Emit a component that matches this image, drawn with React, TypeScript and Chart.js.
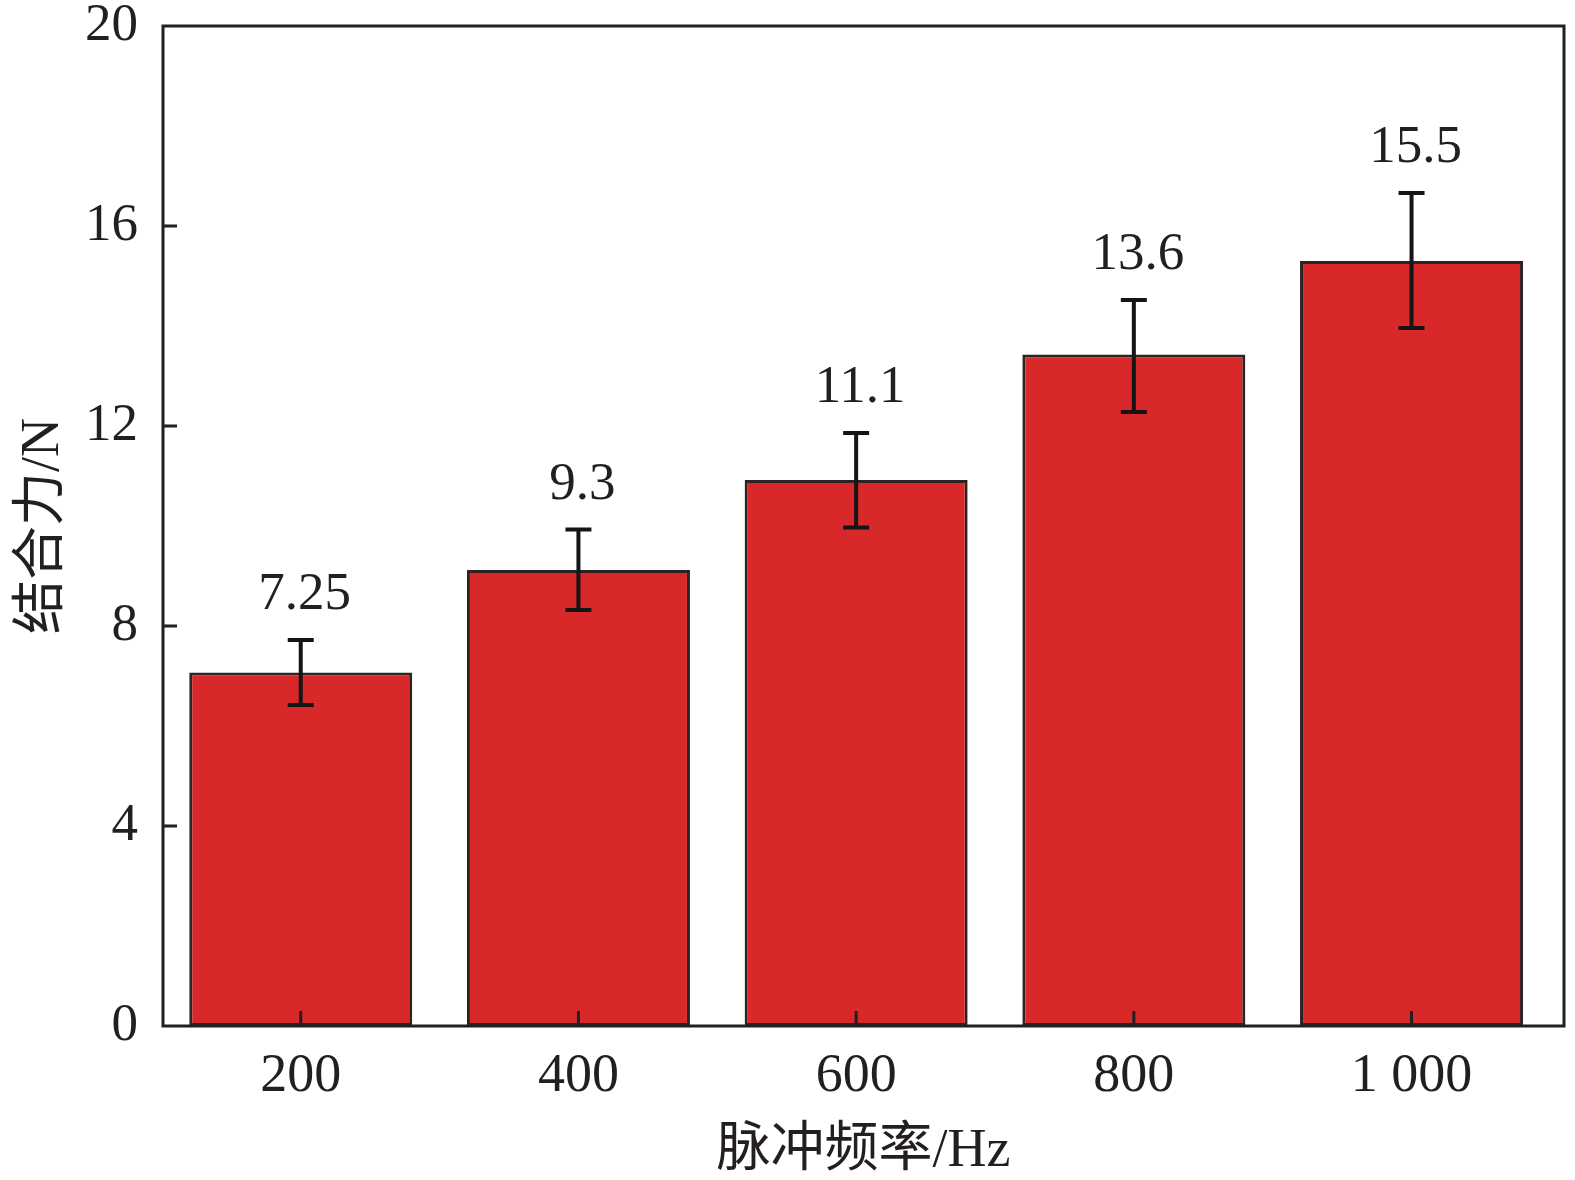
import React, { useEffect, useRef } from 'react';
import { Chart, registerables } from 'chart.js';

Chart.register(...registerables);

const categories = ['200', '400', '600', '800', '1 000'];
const forceValues = [7.07, 9.12, 10.92, 13.43, 15.3];
const errorLow = [6.42, 8.32, 9.97, 12.28, 13.96];
const errorHigh = [7.72, 9.93, 11.86, 14.52, 16.66];
const valueLabels = ['7.25', '9.3', '11.1', '13.6', '15.5'];
const yTicks = [0, 4, 8, 12, 16, 20];

const SERIF = '"Liberation Serif", "Times New Roman", "Noto Sans CJK SC", serif';
const INK = '#231f20';

export default function App() {
  const ref = useRef<HTMLCanvasElement>(null);

  useEffect(() => {
    if (!ref.current) return;

    const overlay = {
      id: 'overlay',
      afterDatasetsDraw(chart: any) {
        const { ctx, chartArea: a, scales } = chart;
        const x = scales.x;
        const y = scales.y;
        const meta = chart.getDatasetMeta(0);
        ctx.save();
        // error bars and value labels
        meta.data.forEach((bar: any, i: number) => {
          const cx = bar.x;
          const yt = y.getPixelForValue(errorHigh[i]);
          const yb = y.getPixelForValue(errorLow[i]);
          ctx.strokeStyle = '#151515';
          ctx.lineWidth = 4;
          ctx.beginPath();
          ctx.moveTo(cx, yt);
          ctx.lineTo(cx, yb);
          ctx.moveTo(cx - 13, yt);
          ctx.lineTo(cx + 13, yt);
          ctx.moveTo(cx - 13, yb);
          ctx.lineTo(cx + 13, yb);
          ctx.stroke();
          ctx.fillStyle = INK;
          ctx.font = `53px ${SERIF}`;
          ctx.textAlign = 'center';
          ctx.textBaseline = 'alphabetic';
          ctx.fillText(valueLabels[i], cx + 4, yt - 31);
        });
        // frame
        ctx.strokeStyle = INK;
        ctx.lineWidth = 3;
        ctx.strokeRect(a.left, a.top, a.right - a.left, a.bottom - a.top);
        // inward ticks
        ctx.beginPath();
        yTicks.slice(1, -1).forEach((v) => {
          const py = y.getPixelForValue(v);
          ctx.moveTo(a.left, py);
          ctx.lineTo(a.left + 14, py);
        });
        categories.forEach((_, i) => {
          const px = x.getPixelForValue(i);
          ctx.moveTo(px, a.bottom);
          ctx.lineTo(px, a.bottom - 15);
        });
        ctx.stroke();
        ctx.restore();
      },
    };

    const chart = new Chart(ref.current, {
      type: 'bar',
      data: {
        datasets: [
          {
            data: forceValues.map((v, i) => ({ x: i, y: v })),
            backgroundColor: '#d8282a',
            borderColor: '#2e2222',
            borderWidth: 3,
            borderSkipped: false,
            categoryPercentage: 0.803,
            barPercentage: 1,
          },
        ],
      },
      options: {
        animation: false,
        responsive: true,
        maintainAspectRatio: false,
        layout: { padding: { top: 26, right: 11, left: 0, bottom: 0 } },
        plugins: {
          legend: { display: false },
          tooltip: { enabled: false },
        },
        scales: {
          x: {
            type: 'linear',
            offset: false,
            min: -0.496,
            max: 4.549,
            afterBuildTicks: (scale: any) => {
              scale.ticks = categories.map((_, i) => ({ value: i }));
            },
            afterFit: (scale: any) => {
              scale.height = 154;
            },
            grid: { display: false, drawTicks: false, offset: false },
            border: { display: false },
            ticks: {
              autoSkip: false,
              maxRotation: 0,
              padding: 18,
              color: INK,
              font: { family: SERIF, size: 54, lineHeight: 1.2 },
              callback: (v: any) => categories[v] ?? '',
            },
            title: {
              display: true,
              text: '脉冲频率/Hz',
              color: INK,
              font: { family: SERIF, size: 54, lineHeight: 1.0 },
              padding: { top: 0, bottom: 1 },
            },
          },
          y: {
            min: 0,
            max: 20,
            afterBuildTicks: (scale: any) => {
              scale.ticks = yTicks.map((v) => ({ value: v }));
            },
            afterFit: (scale: any) => {
              scale.width = 163;
            },
            grid: { display: false, drawTicks: false },
            border: { display: false },
            ticks: {
              padding: 25,
              color: INK,
              font: { family: SERIF, size: 53, lineHeight: 0.02 },
            },
            title: {
              display: true,
              text: '结合力/N',
              color: INK,
              font: { family: SERIF, size: 54, lineHeight: 1.2 },
              padding: { top: 11, bottom: 0 },
            },
          },
        },
      },
      plugins: [overlay],
    } as any);

    return () => chart.destroy();
  }, []);

  return (
    <div
      style={{
        position: 'fixed',
        left: 0,
        top: 0,
        width: 1575,
        height: 1180,
        background: '#ffffff',
      }}
    >
      <canvas ref={ref} />
    </div>
  );
}
